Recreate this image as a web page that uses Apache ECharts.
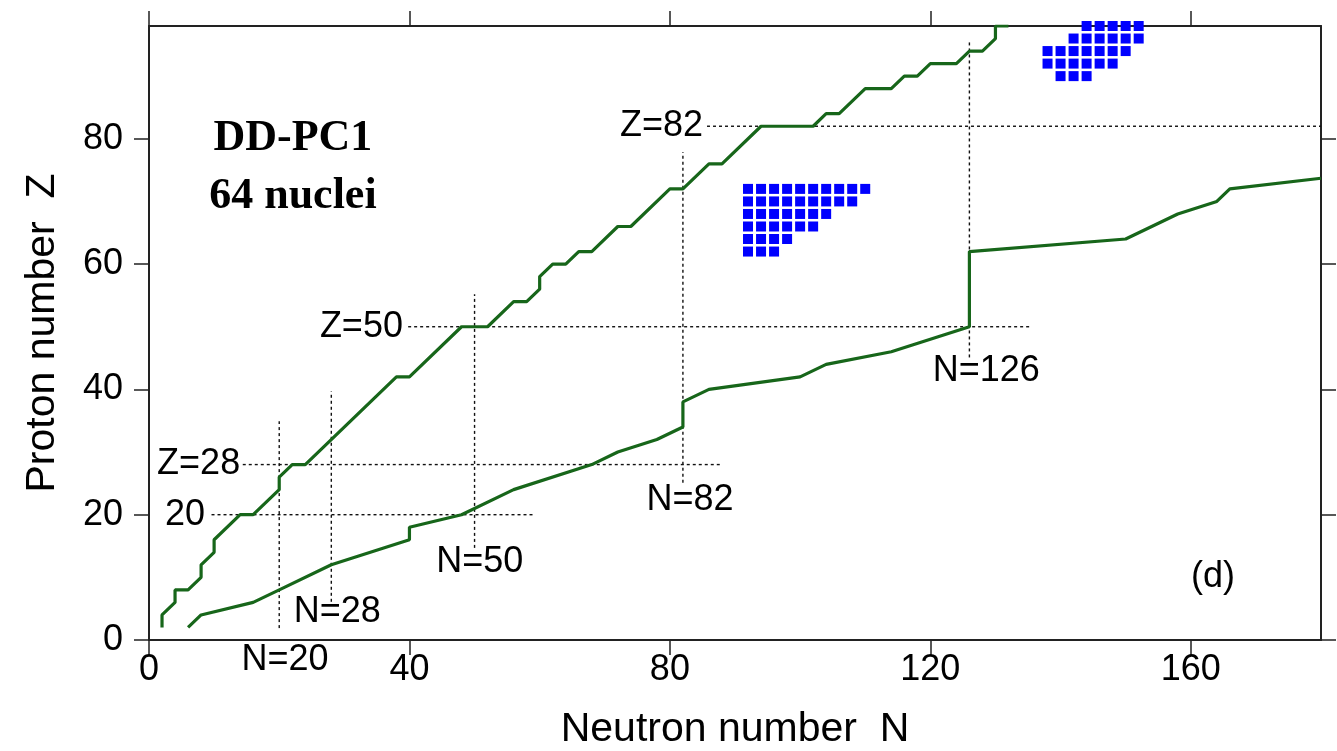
<!DOCTYPE html>
<html><head><meta charset="utf-8">
<script src="https://cdn.jsdelivr.net/npm/echarts@6/dist/echarts.min.js"></script>
<style>html,body{margin:0;padding:0;background:#fff}#c{width:1337px;height:751px}</style>
</head><body><div id="c"></div>
<script>
// ---- data ----
const xTicks = [0, 40, 80, 120, 160];
const yTicks = [0, 20, 40, 60, 80];
const xRange = [0, 180];
const yRange = [0, 98];

// proton drip line [N, Z]
const protonDrip = [[2,2],[2,4],[4,6],[4,8],[6,8],[8,10],[8,12],[10,14],[10,16],[14,20],[16,20],
  [20,24],[20,26],[22,28],[24,28],[38,42],[40,42],[48,50],[52,50],[56,54],[58,54],[60,56],[60,58],
  [62,60],[64,60],[66,62],[68,62],[72,66],[74,66],[80,72],[82,72],[86,76],[88,76],[94,82],[102,82],
  [104,84],[106,84],[110,88],[114,88],[116,90],[118,90],[120,92],[124,92],[126,94],[128,94],
  [130,96],[130,98],[132,98]];
// neutron drip line [N, Z]
const neutronDrip = [[6,2],[8,4],[16,6],[20,8],[28,12],[40,16],[40,18],[48,20],[56,24],[68,28],
  [72,30],[78,32],[82,34],[82,38],[86,40],[100,42],[104,44],[114,46],[126,50],[126,62],[150,64],
  [158,68],[164,70],[166,72],[180,73.7]];

// calculated nuclei islands: Z -> list of N
const islandLowZ = [72, 70, 68, 66, 64, 62];
const islandLowN = [
  [92,94,96,98,100,102,104,106,108,110],
  [92,94,96,98,100,102,104,106,108],
  [92,94,96,98,100,102,104],
  [92,94,96,98,100,102],
  [92,94,96,98],
  [92,94,96]];
const islandHighZ = [98, 96, 94, 92, 90];
const islandHighN = [
  [144,146,148,150,152],
  [142,144,146,148,150,152],
  [138,140,142,144,146,148,150],
  [138,140,142,144,146,148],
  [140,142,144]];

// magic-number guide lines
const magicZLines = [[20, 9.6, 59.3], [28, 14.4, 87.7], [50, 39.8, 135.3], [82, 85.7, 180]]; // [Z, Nfrom, Nto]
const magicNLines = [[20, 1.9, 34.9], [28, 6.1, 39.7], [50, 14.7, 55.2], [82, 25.1, 77.9], [126, 45.1, 95.7]]; // [N, Zfrom, Zto]

// text annotations [text, N, Z, align]
const sansNotes = [
  ['Z=28', 14.0, 28, 'right'], ['20', 8.6, 20, 'right'], ['Z=50', 39.0, 50, 'right'], ['Z=82', 85.1, 82, 'right'],
  ['N=20', 20.9, -3.2, 'center'], ['N=28', 28.9, 4.5, 'center'], ['N=50', 50.8, 12.5, 'center'],
  ['N=82', 83.1, 22.4, 'center'], ['N=126', 128.6, 43.0, 'center'], ['(d)', 163.4, 10.1, 'center']];
const serifNotes = [['DD-PC1', 22.1, 80.0, 'center'], ['64 nuclei', 22.1, 70.7, 'center']];

const xName = 'Neutron number  N';
const yName = 'Proton number  Z';

// ---- build ----
const GREEN = '#17661a';
const AX = '#222';
const TXT = '#000';
function islandPoints(zs, ns) {
  const pts = [];
  zs.forEach((z, i) => ns[i].forEach(n => pts.push([n, z])));
  return pts;
}
function noteData(notes) {
  return notes.map(a => ({ value: [a[1], a[2]], name: a[0], label: { align: a[3] } }));
}
const guideStyle = { color: '#111', width: 1.4, type: [3, 3] };
const guideSeries = [];
magicZLines.forEach(l => guideSeries.push({
  type: 'line', data: [[l[1], l[0]], [l[2], l[0]]], symbol: 'none', silent: true, z: 1, lineStyle: guideStyle
}));
magicNLines.forEach(l => guideSeries.push({
  type: 'line', data: [[l[0], l[1]], [l[0], l[2]]], symbol: 'none', silent: true, z: 1, lineStyle: guideStyle
}));

const axisCommon = {
  type: 'value', splitLine: { show: false },
  axisLine: { show: true, onZero: false, lineStyle: { color: AX, width: 2 } },
  axisTick: { show: true, inside: false, length: 15, lineStyle: { color: AX, width: 1.5 } }
};

const option = {
  animation: false,
  backgroundColor: '#fff',
  grid: { left: 149, right: 16, top: 26, bottom: 111, containLabel: false, outerBoundsMode: 'none' },
  xAxis: [
    Object.assign({}, axisCommon, {
      min: xRange[0], max: xRange[1], interval: 40, position: 'bottom',
      axisTick: Object.assign({}, axisCommon.axisTick, { customValues: xTicks }),
      axisLabel: { customValues: xTicks, margin: 12, color: TXT, fontSize: 36, fontFamily: 'Liberation Sans' },
      name: xName, nameLocation: 'middle', nameGap: 69,
      nameTextStyle: { color: TXT, fontSize: 41, fontFamily: 'Liberation Sans' }
    }),
    Object.assign({}, axisCommon, {
      min: xRange[0], max: xRange[1], interval: 40, position: 'top',
      axisTick: Object.assign({}, axisCommon.axisTick, { customValues: xTicks }),
      axisLabel: { show: false }
    })
  ],
  yAxis: [
    Object.assign({}, axisCommon, {
      min: yRange[0], max: yRange[1], interval: 20, position: 'left',
      axisTick: Object.assign({}, axisCommon.axisTick, { customValues: yTicks }),
      axisLabel: { customValues: yTicks, margin: 26, color: TXT, fontSize: 36, fontFamily: 'Liberation Sans' },
      name: yName, nameLocation: 'middle', nameGap: 86,
      nameTextStyle: { color: TXT, fontSize: 41, fontFamily: 'Liberation Sans' }
    }),
    Object.assign({}, axisCommon, {
      min: yRange[0], max: yRange[1], interval: 20, position: 'right',
      axisTick: Object.assign({}, axisCommon.axisTick, { customValues: yTicks }),
      axisLabel: { show: false }
    })
  ],
  series: guideSeries.concat([
    { type: 'line', data: protonDrip, symbol: 'none', z: 3, lineStyle: { color: GREEN, width: 3.2 } },
    { type: 'line', data: neutronDrip, symbol: 'none', z: 3, lineStyle: { color: GREEN, width: 3.2 } },
    { type: 'scatter', data: islandPoints(islandLowZ, islandLowN), symbol: 'rect', symbolSize: 10,
      itemStyle: { color: '#0000ff', opacity: 1 }, clip: false, z: 4 },
    { type: 'scatter', data: islandPoints(islandHighZ, islandHighN), symbol: 'rect', symbolSize: 10,
      itemStyle: { color: '#0000ff', opacity: 1 }, clip: false, z: 4 },
    { type: 'scatter', data: noteData(sansNotes), symbolSize: 0, clip: false, silent: true, z: 5,
      itemStyle: { opacity: 1 },
      label: { show: true, position: 'inside', formatter: p => p.name, verticalAlign: 'middle',
        color: TXT, opacity: 1, fontSize: 36, fontFamily: 'Liberation Sans' } },
    { type: 'scatter', data: noteData(serifNotes), symbolSize: 0, clip: false, silent: true, z: 5,
      itemStyle: { opacity: 1 },
      label: { show: true, position: 'inside', formatter: p => p.name, verticalAlign: 'middle',
        color: TXT, opacity: 1, fontSize: 44, fontWeight: 'bold', fontFamily: 'Liberation Serif' } }
  ])
};
echarts.init(document.getElementById('c'), null, { renderer: 'canvas' }).setOption(option);
</script>
</body></html>
